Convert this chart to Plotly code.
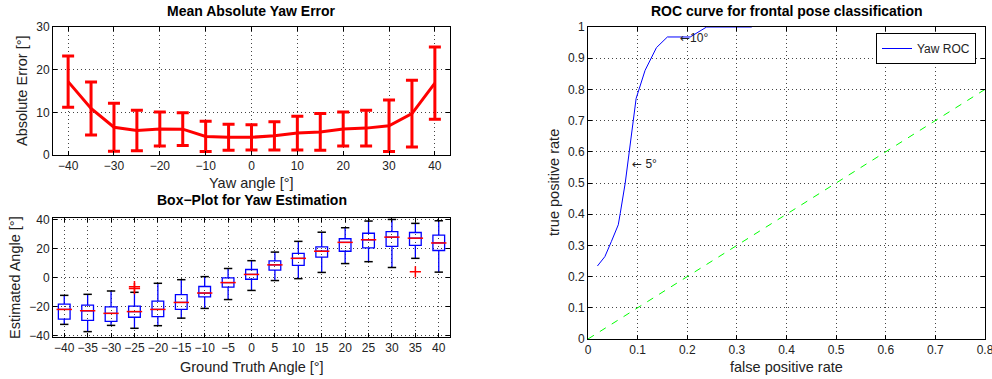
import plotly.graph_objects as go

# ---------------- data ----------------
yaw = [-40, -35, -30, -25, -20, -15, -10, -5, 0, 5, 10, 15, 20, 25, 30, 35, 40]
mae_mean = [17.2, 10.9, 6.5, 5.75, 6.1, 6.05, 4.35, 4.15, 4.15, 4.5, 5.15, 5.4, 6.1, 6.3, 6.85, 9.7, 16.85]
mae_std = [6.0, 6.2, 5.6, 4.75, 4.0, 3.85, 3.55, 3.05, 2.95, 3.3, 3.95, 4.3, 4.0, 4.2, 6.05, 7.8, 8.45]

box_upper = [-12.3, -11.6, -9.3, -10.2, -4.0, -1.5, 0.6, 6.2, 11.6, 17.5, 24.9, 31.2, 34.3, 38.9, 40.0, 37.3, 39.1]
box_q3 = [-18.4, -19.0, -20.2, -19.7, -16.3, -11.8, -6.2, -0.3, 5.5, 11.4, 16.6, 21.1, 26.7, 30.5, 31.6, 31.0, 29.2]
box_med = [-22.0, -22.9, -24.7, -23.5, -22.0, -17.2, -10.7, -3.5, 2.1, 8.7, 13.2, 18.1, 24.2, 26.0, 27.8, 27.1, 23.8]
box_q1 = [-28.7, -29.6, -30.3, -27.4, -26.9, -22.0, -13.4, -6.6, -1.2, 5.1, 8.4, 14.1, 18.1, 20.4, 21.5, 22.2, 18.6]
box_lower = [-32.3, -37.3, -33.0, -35.0, -33.2, -28.0, -21.3, -15.2, -8.9, -2.1, -0.8, 3.5, 9.6, 10.9, 6.9, 13.2, 3.7]
outlier_x = [-25, -25, 35]
outlier_y = [-6.3, -7.6, 3.9]

roc_fpr = [0.019, 0.034, 0.047, 0.061, 0.065, 0.070, 0.075, 0.097, 0.115, 0.138, 0.160, 0.206, 0.239, 0.33]
roc_tpr = [0.234, 0.264, 0.312, 0.366, 0.403, 0.456, 0.50, 0.771, 0.861, 0.934, 0.968, 0.968, 1.0, 1.0]
chance = [0, 1]

ann_points = [(0.0846, 0.561, " 5\u00b0"), (0.1815, 0.966, "10\u00b0")]

yaw_ticks = [-40, -30, -20, -10, 0, 10, 20, 30, 40]
box_ticktext = [("\u2212" + str(-v)) if v < 0 else str(v) for v in yaw]
roc_xticks = [0, 0.1, 0.2, 0.3, 0.4, 0.5, 0.6, 0.7, 0.8]
roc_yticks = [0, 0.1, 0.2, 0.3, 0.4, 0.5, 0.6, 0.7, 0.8, 0.9, 1]

# ---------------- layout helpers ----------------
W, H = 992, 379
FONT = "Liberation Sans, Arial, Helvetica, sans-serif"

def px_x(p):
    return p / W

def px_y(p):
    return 1 - p / H

L_X = [px_x(53), px_x(450)]
R_X = [px_x(588), px_x(985)]
TOP_Y = [px_y(155), px_y(27)]
BOT_Y = [px_y(337), px_y(218)]
R_Y = [px_y(339), px_y(27)]

axis_common = dict(
    showline=True, linecolor="black", linewidth=1, mirror="ticks",
    ticks="inside", ticklen=4, tickcolor="black", tickwidth=1,
    showgrid=True, gridcolor="#444", gridwidth=1, griddash="1px,3px",
    zeroline=False, tickfont=dict(family=FONT, size=12, color="#222"),
    ticklabeloverflow="allow", automargin=False,
)

fig = go.Figure()

# top-left: mean absolute error
fig.add_trace(go.Scatter(
    x=yaw, y=mae_mean, mode="lines",
    line=dict(color="#ff0000", width=3),
    error_y=dict(type="data", array=mae_std, color="#ff0000", thickness=3, width=6),
    xaxis="x", yaxis="y", showlegend=False,
))

# bottom-left: box plots
fig.add_trace(go.Box(
    x=yaw, q1=box_q1, median=box_med, q3=box_q3,
    lowerfence=box_lower, upperfence=box_upper,
    width=2.5, whiskerwidth=0, boxpoints=False,
    line=dict(color="#0000ff", width=1.3), fillcolor="rgba(0,0,0,0)",
    xaxis="x2", yaxis="y2", showlegend=False, hoverinfo="skip",
))
fig.add_trace(go.Scatter(
    x=yaw + yaw, y=box_upper + box_lower, mode="markers",
    marker=dict(symbol="line-ew-open", size=6, color="black", line=dict(color="black", width=1.5)),
    xaxis="x2", yaxis="y2", showlegend=False,
))
fig.add_trace(go.Scatter(
    x=yaw, y=box_med, mode="markers",
    marker=dict(symbol="line-ew-open", size=11, color="#ff0000", line=dict(color="#ff0000", width=1.5)),
    xaxis="x2", yaxis="y2", showlegend=False,
))
fig.add_trace(go.Scatter(
    x=outlier_x, y=outlier_y, mode="markers",
    marker=dict(symbol="cross-thin-open", size=8, color="#ff0000", line=dict(color="#ff0000", width=1.5)),
    xaxis="x2", yaxis="y2", showlegend=False,
))

# right: ROC
fig.add_trace(go.Scatter(
    x=chance, y=chance, mode="lines",
    line=dict(color="#00ff00", width=1, dash="7px,7px"),
    xaxis="x3", yaxis="y3", showlegend=False,
))
fig.add_trace(go.Scatter(
    x=roc_fpr, y=roc_tpr, mode="lines", name="Yaw ROC",
    line=dict(color="#0000ff", width=1),
    xaxis="x3", yaxis="y3", showlegend=True,
))

fig.update_layout(
    width=W, height=H,
    margin=dict(l=0, r=0, t=0, b=0, pad=0, autoexpand=False),
    paper_bgcolor="white", plot_bgcolor="white",
    font=dict(family=FONT, color="#222"),
    xaxis=dict(axis_common, domain=L_X, anchor="y", range=[-43.3, 43.3],
               tickvals=yaw_ticks),
    yaxis=dict(axis_common, domain=TOP_Y, anchor="x", range=[0, 30],
               tickvals=[0, 10, 20, 30]),
    xaxis2=dict(axis_common, domain=L_X, anchor="y2", range=[-42.4, 42.4],
                tickvals=yaw, ticktext=box_ticktext),
    yaxis2=dict(axis_common, domain=BOT_Y, anchor="x2", range=[-41, 41],
                tickvals=[-40, -20, 0, 20, 40]),
    xaxis3=dict(axis_common, domain=R_X, anchor="y3", range=[0, 0.8],
                tickvals=roc_xticks, ticktext=[str(v) for v in roc_xticks]),
    yaxis3=dict(axis_common, domain=R_Y, anchor="x3", range=[0, 1],
                tickvals=roc_yticks, ticktext=[str(v) for v in roc_yticks]),
    legend=dict(
        x=px_x(976), y=px_y(33), xanchor="right", yanchor="top",
        bgcolor="white", bordercolor="black", borderwidth=1,
        font=dict(family=FONT, size=12, color="#222"),
        itemwidth=30, tracegroupgap=0,
    ),
    showlegend=True,
)

annotations = []
def txt(x, y, text, size=14.5, bold=False, angle=0):
    annotations.append(dict(
        x=px_x(x), y=px_y(y), xref="paper", yref="paper",
        text=("<b>%s</b>" % text) if bold else text,
        showarrow=False, textangle=angle,
        font=dict(family=FONT, size=size, color="black" if bold else "#222"),
        xanchor="center", yanchor="middle",
    ))

txt(251.5, 11, "Mean Absolute Yaw Error", size=14, bold=True)
txt(251.5, 199.5, "Box\u2212Plot for Yaw Estimation", size=14, bold=True)
txt(786.5, 11, "ROC curve for frontal pose classification", size=14, bold=True)
txt(251.5, 183, "Yaw angle [\u00b0]")
txt(22, 91, "Absolute Error [\u00b0]", angle=-90)
txt(251.5, 366.5, "Ground Truth Angle [\u00b0]")
txt(15, 278, "Estimated Angle [\u00b0]", angle=-90)
txt(786.5, 367, "false positive rate")
txt(554, 183, "true positive rate", angle=-90)

for ax, ay, t in ann_points:
    annotations.append(dict(
        x=ax, y=ay, xref="x3", yref="y3",
        text='<span style="font-family:DejaVu Sans">\u2190</span>' + t,
        showarrow=False, xanchor="left", yanchor="middle",
        font=dict(family=FONT, size=12, color="#222"),
    ))

fig.update_layout(annotations=annotations)

POST = (
    "var s=document.createElement('style');"
    "s.textContent='html,body{margin:0;padding:0;overflow:hidden;}';"
    "document.head.appendChild(s);"
)

fig.write_html("out.html", config={"displayModeBar": False}, post_script=POST)
